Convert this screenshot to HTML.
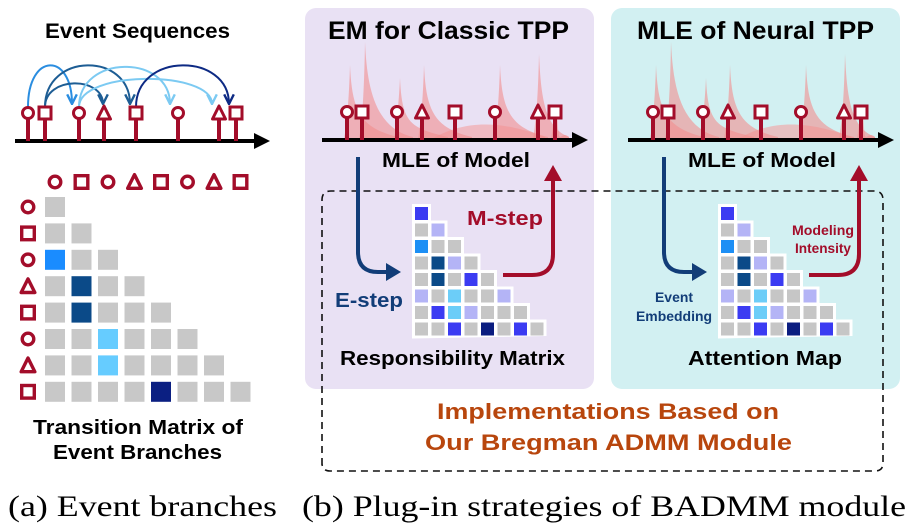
<!DOCTYPE html>
<html><head><meta charset="utf-8"><style>
html,body{margin:0;padding:0;background:#fff;width:910px;height:528px;overflow:hidden}
svg text{font-family:"Liberation Sans",sans-serif;font-weight:bold}
</style></head><body>
<svg id="s" width="910" height="528" viewBox="0 0 910 528" xmlns="http://www.w3.org/2000/svg">
<defs>
<marker id="ah" viewBox="0 0 10 10" refX="9" refY="5" markerWidth="6" markerHeight="6" orient="auto"><path d="M1,1 L9,5 L1,9" fill="none" stroke="context-stroke" stroke-width="2"/></marker>
<clipPath id="cp1"><rect x="305" y="8" width="289" height="381"/></clipPath>
<clipPath id="cp2"><rect x="611" y="8" width="289" height="381"/></clipPath>
</defs>
<rect x="305" y="8" width="289" height="381" rx="11" fill="#e9e1f4"/>
<rect x="611" y="8" width="289" height="381" rx="11" fill="#d2f0f2"/>
<path d="M322,465 L322,200 Q322,191 331,191 L874,191 Q883,191 883,200 L883,463 Q883,471 875,471 L330,471 Q322,471 322,463" fill="none" stroke="#111" stroke-width="1.6" stroke-dasharray="7,5"/>
<g id="g"></g>
<text x="45" y="38" font-size="21" textLength="185" lengthAdjust="spacingAndGlyphs">Event Sequences</text>
<text x="33" y="434" font-size="20.5" textLength="210" lengthAdjust="spacingAndGlyphs">Transition Matrix of</text>
<text x="53" y="459" font-size="20.5" textLength="169" lengthAdjust="spacingAndGlyphs">Event Branches</text>
<text x="328" y="39" font-size="25" textLength="241" lengthAdjust="spacingAndGlyphs">EM for Classic TPP</text>
<text x="637" y="39" font-size="25" textLength="237" lengthAdjust="spacingAndGlyphs">MLE of Neural TPP</text>
<text x="382" y="167" font-size="20" textLength="148" lengthAdjust="spacingAndGlyphs">MLE of Model</text>
<text x="688" y="167" font-size="20" textLength="148" lengthAdjust="spacingAndGlyphs">MLE of Model</text>
<text x="467" y="225" font-size="20.5" fill="#a30d2a" textLength="76" lengthAdjust="spacingAndGlyphs">M-step</text>
<text x="335" y="307" font-size="20.5" fill="#123d78" textLength="68" lengthAdjust="spacingAndGlyphs">E-step</text>
<text x="792" y="235" font-size="14" fill="#a30d2a" textLength="62" lengthAdjust="spacingAndGlyphs">Modeling</text>
<text x="795" y="253" font-size="14" fill="#a30d2a" textLength="56" lengthAdjust="spacingAndGlyphs">Intensity</text>
<text x="655" y="302" font-size="13.5" fill="#123d78" textLength="38" lengthAdjust="spacingAndGlyphs">Event</text>
<text x="636" y="321" font-size="13.5" fill="#123d78" textLength="76" lengthAdjust="spacingAndGlyphs">Embedding</text>
<text x="340" y="365" font-size="20" textLength="225" lengthAdjust="spacingAndGlyphs">Responsibility Matrix</text>
<text x="688" y="365" font-size="20" textLength="154" lengthAdjust="spacingAndGlyphs">Attention Map</text>
<text x="437" y="419" font-size="22.5" fill="#b8460d" textLength="342" lengthAdjust="spacingAndGlyphs">Implementations Based on</text>
<text x="425" y="450" font-size="22.5" fill="#b8460d" textLength="367" lengthAdjust="spacingAndGlyphs">Our Bregman ADMM Module</text>
<text x="8" y="516" font-size="30" style="font-family:'Liberation Serif',serif;font-weight:normal" textLength="269" lengthAdjust="spacingAndGlyphs">(a) Event branches</text>
<text x="302" y="516" font-size="30" style="font-family:'Liberation Serif',serif;font-weight:normal" textLength="604" lengthAdjust="spacingAndGlyphs">(b) Plug-in strategies of BADMM module</text>
</svg>
<script>
const g=document.getElementById('g');let h='';
const R='#a30d2a';
function icon(t,x,y,sw,k){sw=sw||3;k=k||1;
 if(t=='c')return `<circle cx="${x}" cy="${y}" r="${5.5*k}" fill="#fff" stroke="${R}" stroke-width="${sw}"/>`;
 if(t=='s')return `<rect x="${x-6*k}" y="${y-6*k}" width="${12*k}" height="${12*k}" fill="#fff" stroke="${R}" stroke-width="${sw}"/>`;
 return `<path d="M${x},${y-7*k} L${x+6.5*k},${y+6*k} L${x-6.5*k},${y+6*k} Z" fill="#fff" stroke="${R}" stroke-width="${sw}" stroke-linejoin="round"/>`;}
function axis(x1,x2,y){return `<line x1="${x1}" y1="${y}" x2="${x2-12}" y2="${y}" stroke="#000" stroke-width="4"/><path d="M${x2-16},${y-8} L${x2},${y} L${x2-16},${y+8} Z" fill="#000"/>`;}
function seq(xs,y,types){let s='';xs.forEach((x,i)=>{s+=`<line x1="${x}" y1="${y-24}" x2="${x}" y2="${y}" stroke="${R}" stroke-width="4"/>`+icon(types[i],x,y-28);});return s;}
const T=['c','s','c','t','s','c','t','s'];
const lx=[28,45,79,104,136,178,219,236];
const arcs=[[28,72,'#2a8de0',52],[45,130,'#1d5d94',52],[45,103,'#1d5d94',76],[79,170,'#7ccaf2',54],[79,212,'#7ccaf2',70],[136,229,'#0d2a84',52]];
arcs.forEach(a=>{const x1=a[0],x2=a[1],yt=a[3];h+=`<path d="M${x1},107 C${x1},${yt} ${x2},${yt} ${x2},104" fill="none" stroke="${a[2]}" stroke-width="2" marker-end="url(#ah)"/>`;});
h+=axis(15,270,141)+seq(lx,141,T);
const cx=[55,81.5,108,134.5,161,187.5,214,240.5];
T.forEach((t,i)=>{h+=icon(t,cx[i],182,3.4,1.05);h+=icon(t,28,207+i*26.4,3.4,1.05);});
const col={'3,1':'#1a8cff','4,2':'#0b4a88','5,2':'#0b4a88','6,3':'#66ccff','7,3':'#66ccff','8,5':'#0b1f82'};
for(let r=1;r<=8;r++)for(let c=1;c<=r;c++){h+=`<rect x="${cx[c-1]-10}" y="${207+(r-1)*26.4-10}" width="20" height="20" fill="${col[r+','+c]||'#c8c8c8'}"/>`;}
const M=[['B'],['G','L'],['S','G','G'],['G','D','L','G'],['G','D','G','B','G'],['L','G','C','G','G','L'],['G','B','C','L','G','G','G'],['G','G','B','G','N','G','B','G']];
const MC={B:'#3b3bf2',G:'#c6c6c6',L:'#b4b4f6',S:'#1d8ff5',D:'#0b4a88',C:'#6ccdf8',N:'#0b1d80'};
[0,306].forEach((o,pi)=>{
 const ex=[347,362,397,422,455,495,538,555].map(v=>v+o);
 const peaks=[[350,65,48],[365,42,48],[400,78,48],[424,65,48],[500,65,48],[539,54,30],[557,110,12]];
 let sp=`<path d="M${430+o},140 C${460+o},122 ${495+o},118 ${545+o},137 L${545+o},140 Z" fill="#f4a0a0" opacity="0.6"/>`;
 peaks.forEach(p=>{const x=p[0]+o,t=p[1],w=p[2];sp+=`<path d="M${x-6},140 C${x-3},120 ${x-1},100 ${x},${t} C${x+2},${t+45} ${x+w*0.2},128 ${x+w},137 L${x+w},140 Z" fill="#f28e8e" opacity="0.6"/>`;});
 h+=`<g clip-path="url(#cp${pi+1})">${sp}</g>`;
 h+=axis(322+o,588+o,140)+seq(ex,140,T);
 h+=`<path d="M${358+o},157 L${358+o},252 Q${358+o},272 ${378+o},272 L${388+o},272" fill="none" stroke="#123d78" stroke-width="4"/><path d="M${386+o},263 L${401+o},272 L${386+o},281 Z" fill="#123d78"/>`;
 h+=`<path d="M${503+o},275 L${532+o},275 Q${553+o},275 ${553+o},254 L${553+o},178" fill="none" stroke="#a30d2a" stroke-width="4"/><path d="M${544+o},181 L${553+o},165 L${562+o},181 Z" fill="#a30d2a"/>`;
 const x0=415+o,y0=207,st=16.5,sz=13;
 let wp=`M${x0-3},${y0-3} L${x0+sz+3},${y0-3}`;
 for(let r=0;r<8;r++){wp+=` L${x0+(r+1)*st-0.5},${y0+r*st-3} L${x0+(r+1)*st-0.5},${y0+(r+1)*st-3}`;}
 wp+=` L${x0-3},${y0+8*st-0.5} Z`;
 h+=`<path d="${wp}" fill="#fff"/>`;
 M.forEach((row,r)=>row.forEach((k,c)=>{h+=`<rect x="${x0+c*st}" y="${y0+r*st}" width="${sz}" height="${sz}" fill="${MC[k]}"/>`;}));
});
g.innerHTML=h;
</script>
</body></html>
